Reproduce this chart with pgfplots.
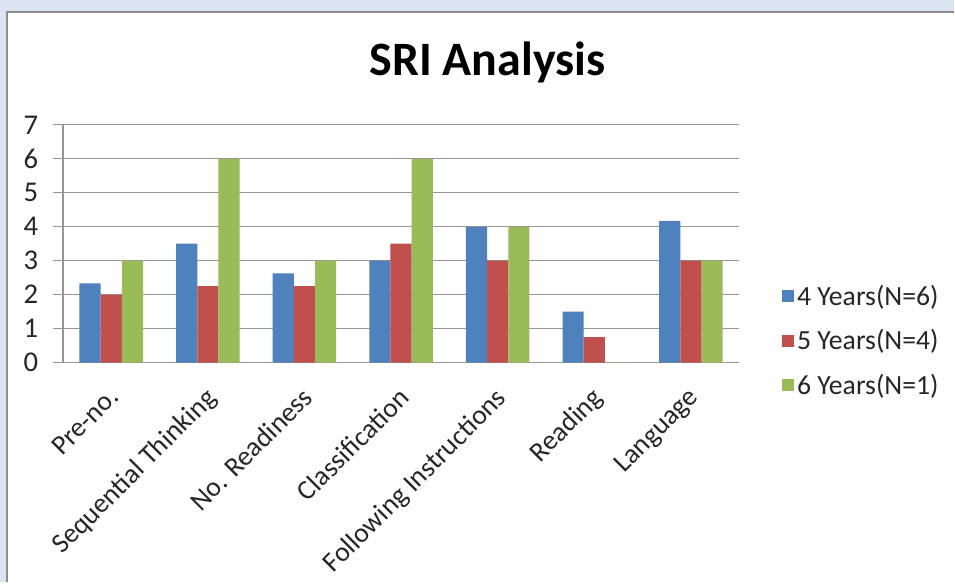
\documentclass[border=0pt]{standalone}
\usepackage{pgfplots}
\pgfplotsset{compat=1.18}
\usepackage{fontspec}
\setmainfont{Carlito}
\definecolor{bgblue}{RGB}{219,229,241}
\definecolor{framegray}{RGB}{140,140,140}
\definecolor{axgray}{RGB}{150,150,150}
\definecolor{sblue}{RGB}{79,129,189}
\definecolor{sred}{RGB}{192,80,77}
\definecolor{sgreen}{RGB}{155,187,89}
\pgfplotstableread{
x a b c
0 2.33 2.00 3
1 3.50 2.25 6
2 2.625 2.25 3
3 3.00 3.50 6
4 4.00 3.00 4
5 1.50 0.75 0
6 4.17 3.00 3
}\sridata
\begin{document}
\begin{tikzpicture}
\fill[bgblue] (0,0) rectangle (716.25pt,437.25pt);
\fill[white] (5.6pt,0) rectangle (716.25pt,428.6pt);
\draw[framegray,line width=1.5pt] (5.6pt,0) -- (5.6pt,428.6pt) -- (716.25pt,428.6pt);
\node[anchor=base,font=\fontsize{36}{40}\selectfont\bfseries] at (366pt,380.25pt) {SRI Analysis};
\begin{axis}[
  at={(47.25pt,165pt)}, anchor=south west,
  scale only axis, width=507.75pt, height=178.5pt,
  ybar=0pt, bar width=15.9pt,
  xmin=-0.5, xmax=6.5, ymin=0, ymax=7,
  ytick={0,1,2,3,4,5,6,7},
  xtick={0,1,2,3,4,5,6},
  xticklabels={Pre-no., Sequential Thinking, No. Readiness, Classification, Following Instructions, Reading, Language},
  extra x ticks={-0.5,0.5,1.5,2.5,3.5,4.5,5.5,6.5},
  extra x tick labels={},
  extra x tick style={major tick length=6pt, tick style={axgray, line width=0.9pt}},
  axis x line*=bottom, axis y line*=left,
  axis line style={axgray, line width=0.9pt, -},
  tick align=outside, major tick length=7.5pt,
  x tick style={draw=none},
  y tick style={axgray, line width=0.9pt},
  ymajorgrids, grid style={axgray, line width=0.9pt},
  yticklabel style={font=\fontsize{21.5}{25}\selectfont, text=black!85, xshift=-7.5pt},
  xticklabel style={font=\fontsize{20.7}{24}\selectfont, text=black!85, rotate=45, anchor=north east, inner sep=1pt, yshift=-4pt, xshift=-8pt},
  /pgf/number format/assume math mode=true,
  legend style={at={(1.0635,0.0924)}, anchor=west, draw=none, fill=none, inner sep=0pt,
    font=\fontsize{20.8}{24}\selectfont, text=black!85, row sep=12.5pt, cells={anchor=west}},
  legend cell align=left,
  legend image code/.code={\fill[#1] (0.5pt,-4.5pt) rectangle (9.5pt,4.5pt);},
]
\addplot[fill=sblue, draw=none] table[x=x,y=a] {\sridata};
\addplot[fill=sred, draw=none] table[x=x,y=b] {\sridata};
\addplot[fill=sgreen, draw=none] table[x=x,y=c] {\sridata};
\legend{4 Years(N=6), 5 Years(N=4), 6 Years(N=1)}
\end{axis}
\end{tikzpicture}
\end{document}
